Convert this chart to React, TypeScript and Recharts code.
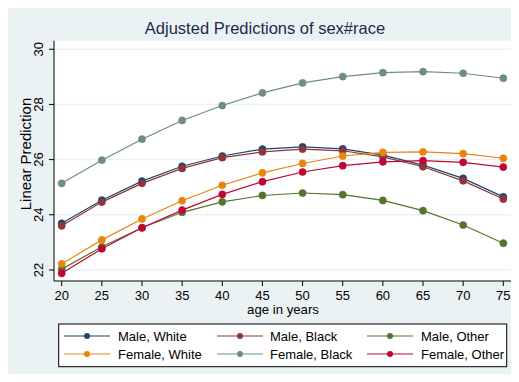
import React from "react";
import { LineChart, Line, XAxis, YAxis, CartesianGrid } from "recharts";

const ages = [20, 25, 30, 35, 40, 45, 50, 55, 60, 65, 70, 75];
const maleWhite = [23.69, 24.53, 25.22, 25.76, 26.13, 26.38, 26.46, 26.39, 26.16, 25.8, 25.32, 24.65];
const maleBlack = [23.6, 24.46, 25.14, 25.68, 26.07, 26.28, 26.38, 26.32, 26.1, 25.74, 25.23, 24.57];
const maleOther = [22.03, 22.84, 23.53, 24.09, 24.47, 24.7, 24.79, 24.73, 24.52, 24.15, 23.63, 22.97];
const femaleWhite = [22.22, 23.09, 23.85, 24.51, 25.07, 25.52, 25.86, 26.13, 26.26, 26.28, 26.22, 26.05];
const femaleBlack = [25.14, 25.98, 26.74, 27.42, 27.96, 28.42, 28.78, 29.01, 29.15, 29.19, 29.13, 28.95];
const femaleOther = [21.88, 22.77, 23.53, 24.17, 24.74, 25.2, 25.55, 25.78, 25.92, 25.96, 25.9, 25.73];

const xTicks = [20, 25, 30, 35, 40, 45, 50, 55, 60, 65, 70, 75];
const yTicks = [22, 24, 26, 28, 30];

const series = [
  { key: "mw", name: "Male, White", color: "#1a476f", values: maleWhite },
  { key: "mb", name: "Male, Black", color: "#90353b", values: maleBlack },
  { key: "mo", name: "Male, Other", color: "#55752f", values: maleOther },
  { key: "fw", name: "Female, White", color: "#e8850c", values: femaleWhite },
  { key: "fb", name: "Female, Black", color: "#6e8e84", values: femaleBlack },
  { key: "fo", name: "Female, Other", color: "#c10534", values: femaleOther },
];

const data = ages.map((age, i) => {
  const row: Record<string, number> = { age };
  series.forEach((s) => {
    row[s.key] = s.values[i];
  });
  return row;
});

const FONT = '"Liberation Sans", Arial, Helvetica, sans-serif';

// y tick labels are turned on their side, as in Stata
const YTick = (props: any) => {
  const { y, payload } = props;
  return (
    <text
      x={43}
      y={y}
      transform={`rotate(-90, 43, ${y})`}
      textAnchor="middle"
      fontSize={13}
      fontFamily={FONT}
      fill="#000"
    >
      {payload.value}
    </text>
  );
};

const XTick = (props: any) => {
  const { x, y, payload } = props;
  return (
    <text x={x} y={y + 12} textAnchor="middle" fontSize={13} fontFamily={FONT} fill="#000">
      {payload.value}
    </text>
  );
};

const legendCols = [
  { lineX: 64, textX: 118 },
  { lineX: 217, textX: 270 },
  { lineX: 367, textX: 421 },
];

export default function App() {
  return (
    <div style={{ position: "relative", width: 519, height: 382, margin: -8, background: "#fff" }}>
      <div
        style={{ position: "absolute", left: 5, top: 5, width: 510, height: 377, background: "#eaf2f3" }}
      />
      <div style={{ position: "absolute", left: 0, top: 0 }}>
        <LineChart
          width={519}
          height={382}
          data={data}
          margin={{ top: 40.7, right: 6.3, left: 0, bottom: 71 }}
        >
          <CartesianGrid
            vertical={false}
            horizontal
            stroke="#eaf2f3"
            strokeWidth={1.5}
            fill="#ffffff"
            horizontalValues={yTicks}
          />
          <XAxis
            dataKey="age"
            type="number"
            domain={[19.04, 76.17]}
            ticks={xTicks}
            allowDataOverflow
            height={30}
            axisLine={{ stroke: "#000", strokeWidth: 1 }}
            tickLine={{ stroke: "#000", strokeWidth: 1 }}
            tickSize={5}
            tick={<XTick />}
          />
          <YAxis
            type="number"
            domain={[21.6, 30.31]}
            ticks={yTicks}
            allowDataOverflow
            width={54}
            axisLine={{ stroke: "#000", strokeWidth: 1 }}
            tickLine={{ stroke: "#000", strokeWidth: 1 }}
            tickSize={5}
            tick={<YTick />}
          />
          {series.map((s) => (
            <Line
              key={s.key}
              dataKey={s.key}
              name={s.name}
              type="linear"
              stroke={s.color}
              strokeWidth={1.2}
              dot={{ r: 3.6, fill: s.color, stroke: s.color, strokeWidth: 0.5 }}
              isAnimationActive={false}
            />
          ))}
        </LineChart>
      </div>
      <svg
        width={519}
        height={382}
        style={{ position: "absolute", left: 0, top: 0, pointerEvents: "none" }}
      >
        <text x={265} y={34} textAnchor="middle" fontSize={16.5} fontFamily={FONT} fill="#1e2a4a">
          Adjusted Predictions of sex#race
        </text>
        <text
          x={31}
          y={154}
          transform="rotate(-90, 31, 154)"
          textAnchor="middle"
          fontSize={15}
          fontFamily={FONT}
          fill="#000"
        >
          Linear Prediction
        </text>
        <text x={283} y={314} textAnchor="middle" fontSize={13.2} fontFamily={FONT} fill="#000">
          age in years
        </text>
        <rect x={58.7} y={324} width={448} height={42.7} fill="#fff" stroke="#000" strokeWidth={1} />
        {series.map((s, i) => {
          const col = legendCols[i % 3];
          const cy = i < 3 ? 336 : 354;
          return (
            <g key={s.key}>
              <line x1={col.lineX} x2={col.lineX + 46} y1={cy} y2={cy} stroke={s.color} strokeWidth={1.2} />
              <circle cx={col.lineX + 23} cy={cy} r={3} fill={s.color} />
              <text x={col.textX} y={cy + 4.6} fontSize={13} fontFamily={FONT} fill="#000">
                {s.name}
              </text>
            </g>
          );
        })}
      </svg>
    </div>
  );
}
